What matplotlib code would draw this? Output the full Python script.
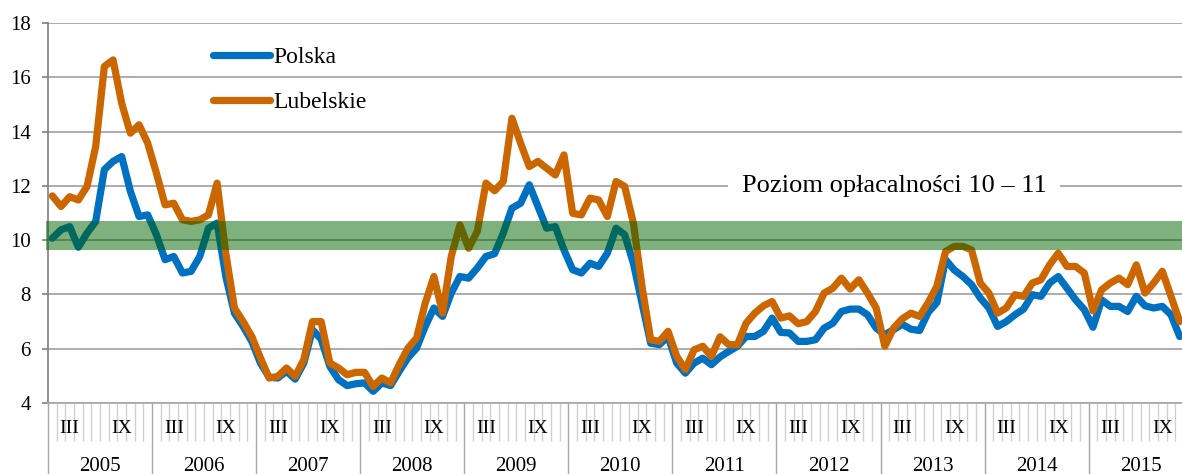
import numpy as np
import matplotlib
matplotlib.use('Agg')
import matplotlib.pyplot as plt
from matplotlib.transforms import blended_transform_factory

plt.rcParams['font.family'] = ['Liberation Serif', 'DejaVu Serif']

# data: monthly values Jan 2005 - Nov 2015
years = list(range(2005, 2016))
month_labels = ['', '', 'III', '', '', '', '', '', 'IX', '', '', '']

polska = [10.07, 10.38, 10.5, 9.74, 10.26, 10.69, 12.6, 12.9, 13.08, 11.8, 10.87, 10.93,
          10.2, 9.28, 9.4, 8.79, 8.85, 9.4, 10.44, 10.63, 8.66, 7.31, 6.82, 6.27,
          5.47, 4.95, 4.92, 5.17, 4.88, 5.47, 6.7, 6.35, 5.35, 4.86, 4.64, 4.71,
          4.74, 4.43, 4.74, 4.64, 5.17, 5.66, 6.02, 6.82, 7.5, 7.19, 8.05, 8.66,
          8.6, 8.97, 9.4, 9.5, 10.26, 11.18, 11.36, 12.04, 11.24, 10.44, 10.5, 9.64,
          8.91, 8.79, 9.15, 9.03, 9.52, 10.44, 10.2, 9.15, 7.68, 6.2, 6.15, 6.45,
          5.47, 5.1, 5.47, 5.65, 5.41, 5.7, 5.9, 6.09, 6.45, 6.45, 6.64, 7.13,
          6.6, 6.58, 6.27, 6.27, 6.33, 6.76, 6.94, 7.37, 7.46, 7.46, 7.25, 6.76,
          6.52, 6.7, 6.9, 6.72, 6.67, 7.34, 7.7, 9.28, 8.9, 8.66, 8.36, 7.87,
          7.5, 6.82, 7.0, 7.25, 7.46, 7.99, 7.93, 8.42, 8.66, 8.23, 7.8, 7.44,
          6.79, 7.8, 7.56, 7.56, 7.37, 7.93, 7.58, 7.5, 7.56, 7.25, 6.45]

lubelskie = [11.63, 11.24, 11.6, 11.48, 11.98, 13.45, 16.4, 16.64, 15.04, 13.94, 14.25, 13.57,
             12.47, 11.3, 11.36, 10.75, 10.69, 10.75, 10.93, 12.1, 9.52, 7.5, 7.0, 6.45,
             5.66, 4.92, 4.98, 5.29, 4.98, 5.6, 7.0, 7.0, 5.47, 5.29, 5.04, 5.13,
             5.13, 4.61, 4.92, 4.74, 5.41, 6.02, 6.39, 7.68, 8.66, 7.31, 9.4, 10.56,
             9.7, 10.32, 12.1, 11.82, 12.16, 14.49, 13.57, 12.71, 12.9, 12.65, 12.4, 13.14,
             10.99, 10.93, 11.55, 11.48, 10.87, 12.16, 11.98, 10.63, 8.29, 6.33, 6.27, 6.64,
             5.72, 5.23, 5.96, 6.09, 5.72, 6.44, 6.15, 6.15, 6.94, 7.31, 7.58, 7.74,
             7.13, 7.21, 6.92, 7.0, 7.37, 8.05, 8.23, 8.6, 8.2, 8.54, 8.05, 7.5,
             6.09, 6.76, 7.1, 7.31, 7.19, 7.7, 8.3, 9.58, 9.77, 9.77, 9.64, 8.42,
             8.05, 7.31, 7.5, 7.99, 7.93, 8.42, 8.54, 9.09, 9.52, 9.03, 9.03, 8.79,
             7.4, 8.17, 8.42, 8.6, 8.36, 9.09, 8.05, 8.42, 8.85, 7.93, 7.0]

band_low, band_high = 9.65, 10.7
band_text = 'Poziom opłacalności 10 – 11'

W, H = 1182, 474
fig = plt.figure(figsize=(W / 100, H / 100), dpi=100)
ax = fig.add_axes([48 / W, 71 / H, 1144.7 / W, 380 / H])

x = np.arange(len(polska))
ax.plot(x, polska, color='#0070C0', lw=5.2, solid_capstyle='round',
        solid_joinstyle='round', label='Polska', zorder=3)
ax.plot(x, lubelskie, color='#CC6600', lw=5.2, solid_capstyle='round',
        solid_joinstyle='round', label='Lubelskie', zorder=4)

# profitability band
ax.axhspan(band_low, band_high, xmin=-0.002, xmax=1, color='#006400', alpha=0.5,
           lw=0, zorder=5, clip_on=False)
ax.text(97.05, 12, band_text, fontsize=19, ha='center', va='center', zorder=6,
        bbox=dict(facecolor='white', edgecolor='none', pad=10))

n_months = 12 * len(years)
ax.set_xlim(-0.5, n_months - 0.5)
ax.set_ylim(4, 18)
ax.set_yticks(range(4, 19, 2))
ax.grid(axis='y', color='#A6A6A6', lw=1.3)
ax.set_axisbelow(True)
for s in ['top', 'right']:
    ax.spines[s].set_visible(False)
ax.spines['left'].set_color('#7F7F7F')
ax.spines['left'].set_linewidth(1.2)
ax.spines['bottom'].set_color('#A6A6A6')
ax.spines['bottom'].set_linewidth(1.2)
ax.tick_params(axis='y', length=4.3, width=1.2, color='#7F7F7F', pad=8, labelsize=15)

# two-level category axis
year_edges = np.arange(0, n_months + 1, 12) - 0.5
month_edges = [m - 0.5 for m in range(n_months) if m % 12 != 0]
ax.set_xticks(year_edges)
ax.set_xticklabels([])
ax.set_xticks(month_edges, minor=True)
ax.tick_params(axis='x', which='major', length=52, width=1, color='#A6A6A6')
ax.tick_params(axis='x', which='minor', length=27.5, width=1, color='#D0D0D0')

trans = blended_transform_factory(ax.transData, ax.transAxes)
for i, yr in enumerate(years):
    for j, lab in enumerate(month_labels):
        if lab:
            ax.text(12 * i + j, -0.066, lab, transform=trans, ha='center',
                    va='center', fontsize=14)
    ax.text(12 * i + 5.5, -0.168, str(yr), transform=trans, ha='center',
            va='center', fontsize=15)

ax.legend(loc='upper left', bbox_to_anchor=(0.144, 0.937), frameon=False,
          fontsize=17, handlelength=2.4, handletextpad=0.15, labelspacing=0.97,
          borderaxespad=0, borderpad=0)

fig.savefig('out.png', dpi=100)
